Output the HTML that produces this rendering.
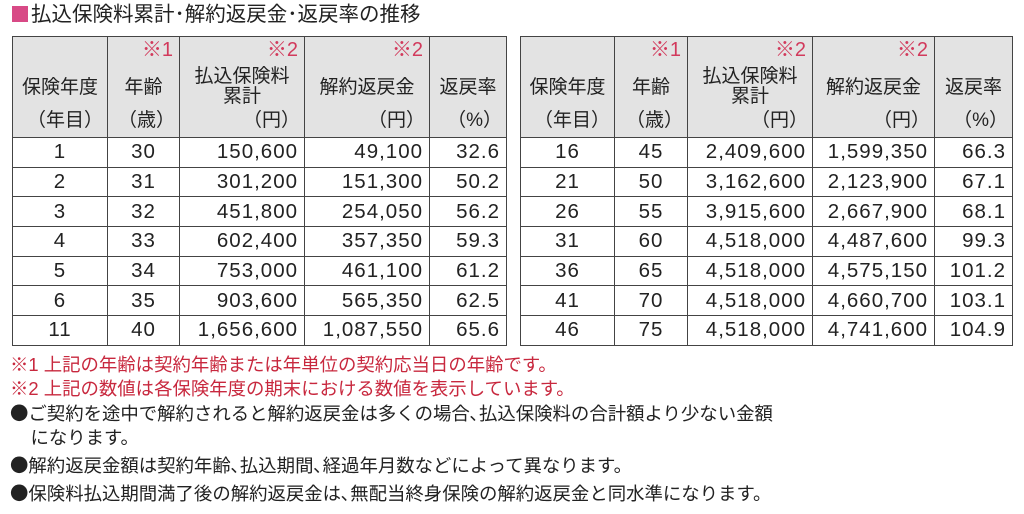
<!DOCTYPE html>
<html><head><meta charset="utf-8"><style>
body{margin:0;width:1024px;height:514px;background:#fff;position:relative;overflow:hidden;font-family:"Liberation Sans","Noto Sans CJK JP",sans-serif;color:#222}
.title{position:absolute;left:12px;top:2px;font-size:20.5px;line-height:26px}
.title span{display:inline-block;width:16px;height:16px;background:#d84a86;margin-right:3px;vertical-align:-1px}
table{position:absolute;border-collapse:collapse;table-layout:fixed}
td{border:1.5px solid #444;height:28.7px;padding:0 7px;font-size:20.5px;line-height:20px;letter-spacing:1px;white-space:nowrap}
td.c{text-align:center}td.r{text-align:right;padding-right:6px}
th{border:1.5px solid #444;background:#e3e3e3;font-weight:normal;height:100px;padding:0;position:relative;font-size:19px}
.m{position:absolute;right:6px;top:1px;color:#d23a5c;font-size:20px;line-height:24px}
.h{position:absolute;left:0;right:0;text-align:center;top:41px;line-height:20px}
.h2{top:30px}
.u{position:absolute;right:4px;bottom:5px;font-size:19px}
.notes{position:absolute;left:10px;top:353px;font-size:18.4px;line-height:24px;white-space:nowrap}
.red{color:#c8283e}
</style></head><body>
<div class="title"><span></span>払込保険料累計･解約返戻金･返戻率の推移</div>

<table style="left:12px;top:36px;width:494px">
<colgroup><col style="width:95px"><col style="width:72px"><col style="width:125px"><col style="width:125px"><col style="width:77px"></colgroup>
<tr><th><div class="h">保険年度</div><div class="u">（年目）</div></th><th><div class="m">※1</div><div class="h">年齢</div><div class="u">（歳）</div></th><th><div class="m">※2</div><div class="h h2">払込保険料<br>累計</div><div class="u">（円）</div></th><th><div class="m">※2</div><div class="h">解約返戻金</div><div class="u">（円）</div></th><th><div class="h">返戻率</div><div class="u">（%）</div></th></tr>
<tr><td class="c">1</td><td class="c">30</td><td class="r">150,600</td><td class="r">49,100</td><td class="r">32.6</td></tr>
<tr><td class="c">2</td><td class="c">31</td><td class="r">301,200</td><td class="r">151,300</td><td class="r">50.2</td></tr>
<tr><td class="c">3</td><td class="c">32</td><td class="r">451,800</td><td class="r">254,050</td><td class="r">56.2</td></tr>
<tr><td class="c">4</td><td class="c">33</td><td class="r">602,400</td><td class="r">357,350</td><td class="r">59.3</td></tr>
<tr><td class="c">5</td><td class="c">34</td><td class="r">753,000</td><td class="r">461,100</td><td class="r">61.2</td></tr>
<tr><td class="c">6</td><td class="c">35</td><td class="r">903,600</td><td class="r">565,350</td><td class="r">62.5</td></tr>
<tr><td class="c">11</td><td class="c">40</td><td class="r">1,656,600</td><td class="r">1,087,550</td><td class="r">65.6</td></tr>
</table>

<table style="left:520px;top:36px;width:492px">
<colgroup><col style="width:94px"><col style="width:73px"><col style="width:125px"><col style="width:122px"><col style="width:78px"></colgroup>
<tr><th><div class="h">保険年度</div><div class="u">（年目）</div></th><th><div class="m">※1</div><div class="h">年齢</div><div class="u">（歳）</div></th><th><div class="m">※2</div><div class="h h2">払込保険料<br>累計</div><div class="u">（円）</div></th><th><div class="m">※2</div><div class="h">解約返戻金</div><div class="u">（円）</div></th><th><div class="h">返戻率</div><div class="u">（%）</div></th></tr>
<tr><td class="c">16</td><td class="c">45</td><td class="r">2,409,600</td><td class="r">1,599,350</td><td class="r">66.3</td></tr>
<tr><td class="c">21</td><td class="c">50</td><td class="r">3,162,600</td><td class="r">2,123,900</td><td class="r">67.1</td></tr>
<tr><td class="c">26</td><td class="c">55</td><td class="r">3,915,600</td><td class="r">2,667,900</td><td class="r">68.1</td></tr>
<tr><td class="c">31</td><td class="c">60</td><td class="r">4,518,000</td><td class="r">4,487,600</td><td class="r">99.3</td></tr>
<tr><td class="c">36</td><td class="c">65</td><td class="r">4,518,000</td><td class="r">4,575,150</td><td class="r">101.2</td></tr>
<tr><td class="c">41</td><td class="c">70</td><td class="r">4,518,000</td><td class="r">4,660,700</td><td class="r">103.1</td></tr>
<tr><td class="c">46</td><td class="c">75</td><td class="r">4,518,000</td><td class="r">4,741,600</td><td class="r">104.9</td></tr>
</table>

<div class="notes">
<div class="red">※1 上記の年齢は契約年齢または年単位の契約応当日の年齢です。</div>
<div class="red">※2 上記の数値は各保険年度の期末における数値を表示しています。</div>
<div><span style="font-family:'Noto Sans CJK JP',sans-serif">●</span>ご契約を途中で解約されると解約返戻金は多くの場合､払込保険料の合計額より少ない金額</div>
<div>&nbsp;&nbsp;&nbsp;&nbsp;になります。</div>
<div style="margin-top:3px"><span style="font-family:'Noto Sans CJK JP',sans-serif">●</span>解約返戻金額は契約年齢､払込期間､経過年月数などによって異なります。</div>
<div style="margin-top:3px"><span style="font-family:'Noto Sans CJK JP',sans-serif">●</span>保険料払込期間満了後の解約返戻金は､無配当終身保険の解約返戻金と同水準になります。</div>
</div>
</body></html>
